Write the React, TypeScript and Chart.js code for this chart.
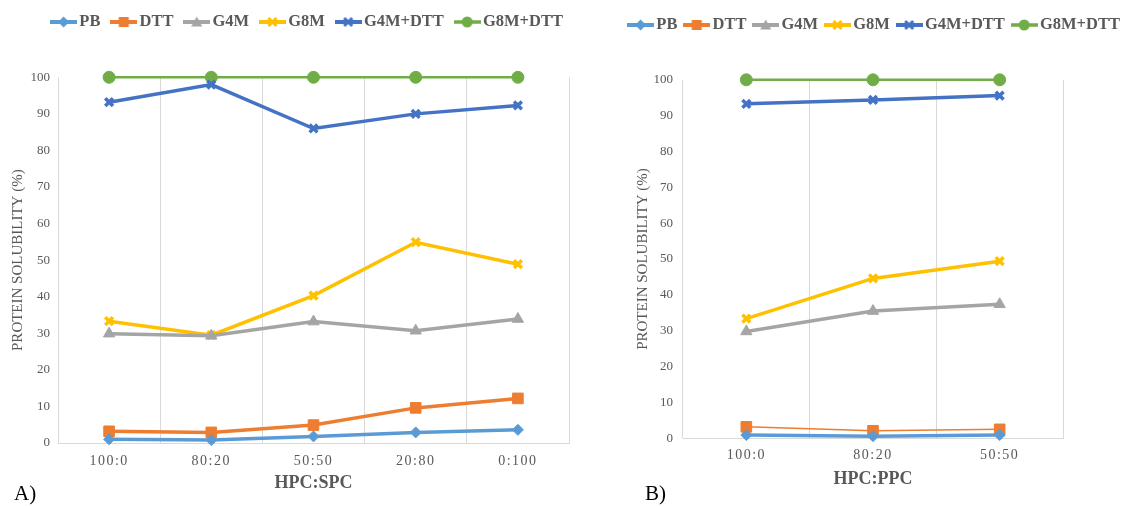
import React, { useEffect, useRef } from 'react';
import { Chart, registerables } from 'chart.js';

Chart.register(...registerables);

// ---- series definitions ----
const SERIES_NAMES = ['PB', 'DTT', 'G4M', 'G8M', 'G4M+DTT', 'G8M+DTT'];
const SERIES_COLORS = ['#5B9BD5', '#ED7D31', '#A5A5A5', '#FFC000', '#4472C4', '#70AD47'];
const SERIES_MARKERS = ['rectRot', 'rect', 'triangle', 'crossRot', 'crossRot', 'circle'];

// ---- panel A: HPC:SPC ----
const spcLabels = ['100:0', '80:20', '50:50', '20:80', '0:100'];
const spcPB = [1.0, 0.8, 1.8, 2.9, 3.6];
const spcDTT = [3.2, 2.9, 4.9, 9.6, 12.2];
const spcG4M = [29.9, 29.3, 33.2, 30.7, 33.9];
const spcG8M = [33.3, 29.5, 40.3, 54.9, 48.9];
const spcG4MDTT = [93.2, 98.0, 86.0, 90.0, 92.3];
const spcG8MDTT = [100, 100, 100, 100, 100];

// ---- panel B: HPC:PPC ----
const ppcLabels = ['100:0', '80:20', '50:50'];
const ppcPB = [0.9, 0.6, 0.9];
const ppcDTT = [3.2, 2.1, 2.5];
const ppcG4M = [29.8, 35.5, 37.4];
const ppcG8M = [33.4, 44.6, 49.4];
const ppcG4MDTT = [93.3, 94.4, 95.6];
const ppcG8MDTT = [100, 100, 100];

const Y_TICKS = [0, 10, 20, 30, 40, 50, 60, 70, 80, 90, 100];

const SERIF = "'Liberation Serif', 'Times New Roman', serif";
const TEXT_GREY = '#595959';
const GRID_GREY = '#d9d9d9';

// Small line-plus-marker swatch used as the legend symbol
function legendIcon(color: string, marker: string, lineW: number) {
  const c = document.createElement('canvas');
  c.width = 27;
  c.height = 14;
  const g = c.getContext('2d')!;
  g.strokeStyle = color;
  g.fillStyle = color;
  g.lineWidth = lineW;
  g.beginPath();
  g.moveTo(0, 7);
  g.lineTo(27, 7);
  g.stroke();
  const cx = 13.5;
  const cy = 7;
  g.beginPath();
  switch (marker) {
    case 'rectRot':
      g.moveTo(cx, cy - 5.5);
      g.lineTo(cx + 5.5, cy);
      g.lineTo(cx, cy + 5.5);
      g.lineTo(cx - 5.5, cy);
      g.closePath();
      g.fill();
      break;
    case 'rect':
      g.fillRect(cx - 5, cy - 5, 10, 10);
      break;
    case 'triangle':
      g.moveTo(cx, cy - 5.5);
      g.lineTo(cx + 5.5, cy + 4.5);
      g.lineTo(cx - 5.5, cy + 4.5);
      g.closePath();
      g.fill();
      break;
    case 'crossRot':
      g.lineWidth = 3;
      g.moveTo(cx - 4, cy - 4);
      g.lineTo(cx + 4, cy + 4);
      g.moveTo(cx + 4, cy - 4);
      g.lineTo(cx - 4, cy + 4);
      g.stroke();
      break;
    default:
      g.arc(cx, cy, 5.5, 0, Math.PI * 2);
      g.fill();
  }
  return c;
}

type PanelProps = {
  left: number;
  width: number;
  labels: string[];
  series: number[][];
  lineWidths: number[];
  xTitle: string;
  yWidth: number;
  xHeight: number;
  padTop: number;
  padRight: number;
  yTitlePad: number;
  yTickPad: number;
  xTickPad: number;
  xTitlePad: number;
  legendFont: number;
  legendPad: number;
  legendTextY: number;
  legendCenter: number;
};

function Panel(p: PanelProps) {
  const ref = useRef<HTMLCanvasElement>(null);

  useEffect(() => {
    const icons = SERIES_NAMES.map((_, i) =>
      legendIcon(SERIES_COLORS[i], SERIES_MARKERS[i], i === 5 ? 3.5 : 4)
    );

    // Places the legend row and spaces out the category labels
    const panelLayout = {
      id: 'panelLayout',
      afterLayout(chart: any) {
        const lg = chart.legend;
        if (lg) {
          const h = lg.height;
          const w = lg.width;
          const top = p.legendTextY - p.legendPad - p.legendFont / 2;
          lg.top = top;
          lg.bottom = top + h;
          lg.left = p.legendCenter - w / 2;
          lg.right = p.legendCenter + w / 2;
        }
        const xs = chart.scales.x;
        if (xs && !xs.__spaced) {
          const orig = xs.drawLabels.bind(xs);
          xs.drawLabels = (area: any) => {
            const ctx = chart.ctx;
            ctx.save();
            ctx.letterSpacing = '1.5px';
            orig(area);
            ctx.restore();
          };
          xs.__spaced = true;
        }
      },
    };

    const radiusFor = (m: string) =>
      m === 'rect' ? 7.5 : m === 'triangle' ? 6.5 : m === 'crossRot' ? 5.5 : m === 'circle' ? 6 : 5.5;

    const datasets = p.series.map((values, i) => ({
      label: SERIES_NAMES[i],
      data: values,
      borderColor: SERIES_COLORS[i],
      backgroundColor: SERIES_COLORS[i],
      borderWidth: p.lineWidths[i],
      pointStyle: SERIES_MARKERS[i],
      pointRadius: radiusFor(SERIES_MARKERS[i]),
      pointBorderWidth: SERIES_MARKERS[i] === 'crossRot' ? 3.5 : 1,
      pointBackgroundColor: SERIES_COLORS[i],
      pointBorderColor: SERIES_COLORS[i],
      tension: 0,
      clip: false as any,
    }));

    const chart = new Chart(ref.current!, {
      type: 'line',
      data: { labels: p.labels, datasets },
      plugins: [panelLayout],
      options: {
        responsive: false,
        animation: false,
        events: [],
        layout: { padding: { top: p.padTop, right: p.padRight, left: 0, bottom: 0 } },
        plugins: {
          tooltip: { enabled: false },
          legend: {
            position: 'top',
            align: 'center',
            labels: {
              usePointStyle: true,
              pointStyleWidth: 15,
              padding: p.legendPad,
              color: TEXT_GREY,
              font: { family: SERIF, size: p.legendFont, weight: 'bold' },
              generateLabels: (c: any) =>
                Chart.defaults.plugins.legend.labels.generateLabels(c).map((it: any) => ({
                  ...it,
                  pointStyle: icons[it.datasetIndex],
                  fontColor: TEXT_GREY,
                })),
            },
          },
        },
        scales: {
          x: {
            type: 'category',
            offset: true,
            grid: { display: true, offset: true, drawTicks: false, color: GRID_GREY, lineWidth: 1 },
            border: { display: true, color: GRID_GREY },
            ticks: { color: TEXT_GREY, padding: p.xTickPad, font: { family: SERIF, size: 14 }, maxRotation: 0 },
            title: {
              display: true,
              text: p.xTitle,
              color: TEXT_GREY,
              font: { family: SERIF, size: 18, weight: 'bold' },
              padding: { top: 0, bottom: p.xTitlePad },
            },
            afterFit: (s: any) => {
              s.height = p.xHeight;
            },
          },
          y: {
            min: 0,
            max: 100,
            grid: { display: false, drawTicks: false },
            border: { display: false },
            ticks: { color: TEXT_GREY, padding: p.yTickPad, font: { family: SERIF, size: 13 } },
            afterBuildTicks: (s: any) => {
              s.ticks = Y_TICKS.map((v) => ({ value: v }));
            },
            title: {
              display: true,
              text: 'PROTEIN SOLUBILITY (%)',
              color: TEXT_GREY,
              font: { family: SERIF, size: 15 },
              padding: { top: p.yTitlePad, bottom: 0 },
            },
            afterFit: (s: any) => {
              s.width = p.yWidth;
            },
          },
        },
      } as any,
    });
    return () => chart.destroy();
  }, []);

  return (
    <canvas
      ref={ref}
      width={p.width}
      height={506}
      style={{ position: 'absolute', left: p.left, top: 0, width: p.width, height: 506 }}
    />
  );
}

const panelLetter: React.CSSProperties = {
  position: 'absolute',
  top: 480,
  fontFamily: SERIF,
  fontSize: 21,
  lineHeight: '26px',
  color: '#000',
};

export default function App() {
  return (
    <div
      style={{
        position: 'fixed',
        left: 0,
        top: 0,
        width: 1127,
        height: 506,
        background: '#fff',
        overflow: 'hidden',
      }}
    >
      <Panel
        left={0}
        width={600}
        labels={spcLabels}
        series={[spcPB, spcDTT, spcG4M, spcG8M, spcG4MDTT, spcG8MDTT]}
        lineWidths={[3.5, 3.5, 3.5, 3.5, 3.5, 2.5]}
        xTitle="HPC:SPC"
        yWidth={58}
        xHeight={63}
        padTop={35}
        padRight={31}
        yTitlePad={9}
        yTickPad={8}
        xTickPad={10}
        xTitlePad={12}
        legendFont={16.5}
        legendPad={15.8}
        legendTextY={22}
        legendCenter={309.5}
      />
      <Panel
        left={530}
        width={597}
        labels={ppcLabels}
        series={[ppcPB, ppcDTT, ppcG4M, ppcG8M, ppcG4MDTT, ppcG8MDTT]}
        lineWidths={[3.5, 1.5, 3.5, 3.5, 3.5, 2.5]}
        xTitle="HPC:PPC"
        yWidth={153}
        xHeight={67.7}
        padTop={41.5}
        padRight={64}
        yTitlePad={104}
        yTickPad={10}
        xTickPad={9}
        xTitlePad={16}
        legendFont={16.5}
        legendPad={11.8}
        legendTextY={25}
        legendCenter={346.5}
      />
      <div style={{ ...panelLetter, left: 14 }}>A)</div>
      <div style={{ ...panelLetter, left: 645 }}>B)</div>
    </div>
  );
}
